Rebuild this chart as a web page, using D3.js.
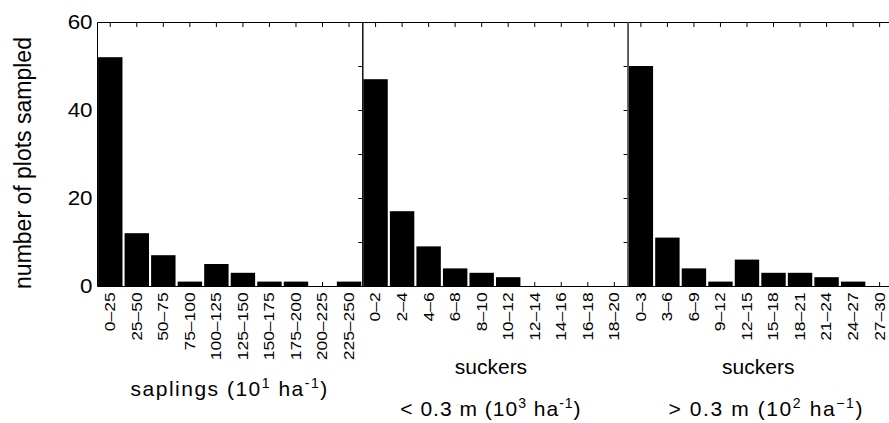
<!DOCTYPE html>
<html>
<head>
<meta charset="utf-8">
<script src="https://cdn.jsdelivr.net/npm/d3@7"></script>
<style>
  body { margin: 0; background: #fff; }
  text { font-family: "Liberation Sans", Arial, sans-serif; fill: #000; }
</style>
</head>
<body>
<div id="chart"></div>
<script>
// histogram bins and counts
const saplingBins = ['0–25','25–50','50–75','75–100','100–125','125–150','150–175','175–200','200–225','225–250'];
const saplingCounts = [52, 12, 7, 1, 5, 3, 1, 1, 0, 1];

const smallSuckerBins = ['0–2','2–4','4–6','6–8','8–10','10–12','12–14','14–16','16–18','18–20'];
const smallSuckerCounts = [47, 17, 9, 4, 3, 2, 0, 0, 0, 0];

const tallSuckerBins = ['0–3','3–6','6–9','9–12','12–15','15–18','18–21','21–24','24–27','27–30'];
const tallSuckerCounts = [50, 11, 4, 1, 6, 3, 3, 2, 1, 0];

const yTicks = [0, 20, 40, 60];
const yMinorTicks = [0, 10, 20, 30, 40, 50, 60];

var W = 889, H = 423;
var margin = {top: 22, left: 97, bottom: 137};
var panelW = 265.3;
var height = H - margin.top - margin.bottom;

var svg = d3.select("#chart")
    .append("svg")
    .attr("width", W)
    .attr("height", H);

var y = d3.scaleLinear()
    .domain([0, 60])
    .range([height, 0]);

// title lines: [dy below axis, x shift, letter spacing, parts (text, sup, text, sup, text)]
var panels = [
    {bins: saplingBins, counts: saplingCounts, title: [[110, 0, 1.5, ["saplings (10", "1", " ha", "-1", ")"]]]},
    {bins: smallSuckerBins, counts: smallSuckerCounts, title: [[88, -4, 0, ["suckers"]], [130, -4, 1, ["< 0.3 m (10", "3", " ha", "-1", ")"]]]},
    {bins: tallSuckerBins, counts: tallSuckerCounts, title: [[88, -2, 0, ["suckers"]], [130, 6, 1.6, ["> 0.3 m (10", "2", " ha", "−1", ")"]]]}
];

panels.forEach(function(p, i) {
    var g = svg.append("g")
        .attr("transform", "translate(" + (margin.left + i * panelW) + "," + margin.top + ")");

    var x = d3.scaleBand()
        .domain(p.bins)
        .range([0, panelW])
        .paddingInner(0.08)
        .paddingOuter(0.04);

    // bars
    g.selectAll("rect.bar")
        .data(p.counts)
        .enter()
        .append("rect")
        .attr("class", "bar")
        .attr("x", function(d, j) { return x(p.bins[j]); })
        .attr("y", function(d) { return y(d); })
        .attr("width", x.bandwidth())
        .attr("height", function(d) { return height - y(d); })
        .attr("fill", "#000");

    // bottom axis: inward ticks, rotated labels
    var bottom = g.append("g")
        .attr("transform", "translate(0," + height + ")")
        .call(d3.axisBottom(x).tickSizeInner(-4).tickSizeOuter(0).tickPadding(6));
    bottom.select(".domain").attr("stroke", "#000");
    bottom.selectAll("text")
        .style("font-size", "14px")
        .attr("transform", "rotate(-90) scale(1.25,1)")
        .attr("text-anchor", "end")
        .attr("x", -5)
        .attr("y", 0)
        .attr("dy", "0.35em");

    // top axis: inward ticks
    var top = g.append("g")
        .call(d3.axisTop(x).tickSizeInner(-5).tickSizeOuter(0).tickFormat(""));
    top.select(".domain").attr("stroke", "#000");

    // left edge of the panel
    var left = g.append("g")
        .call(d3.axisLeft(y).tickValues(yTicks).tickSize(0).tickPadding(4)
            .tickFormat(i === 0 ? d3.format("d") : ""));
    left.selectAll("text").style("font-size", "20px").attr("transform", "scale(1.12,1)");
    left.select(".domain").attr("stroke", i === 2 ? "#555" : "#000").attr("stroke-width", i === 2 ? 1.5 : 1);

    // right side inward ticks
    var right = g.append("g")
        .attr("transform", "translate(" + panelW + ",0)")
        .call(d3.axisRight(y).tickValues(yMinorTicks).tickSizeInner(-4).tickSizeOuter(0).tickFormat(""));
    right.select(".domain").attr("stroke", "#000");

    // panel title
    p.title.forEach(function(l) {
        var t = g.append("text")
            .attr("x", panelW / 2 + l[1])
            .attr("y", height + l[0])
            .attr("text-anchor", "middle")
            .style("letter-spacing", l[2] + "px")
            .style("font-size", "21px");
        l[3].forEach(function(part, k) {
            var ts = t.append("tspan").text(part);
            if (k === 1 || k === 3) ts.attr("dy", -8).style("font-size", "14px");
            if (k === 2 || k === 4) ts.attr("dy", 8);
        });
    });
});

// y axis title
svg.append("text")
    .attr("transform", "translate(31,163) rotate(-90)")
    .attr("text-anchor", "middle")
    .style("font-size", "23px")
    .text("number of plots sampled");
</script>
</body>
</html>
